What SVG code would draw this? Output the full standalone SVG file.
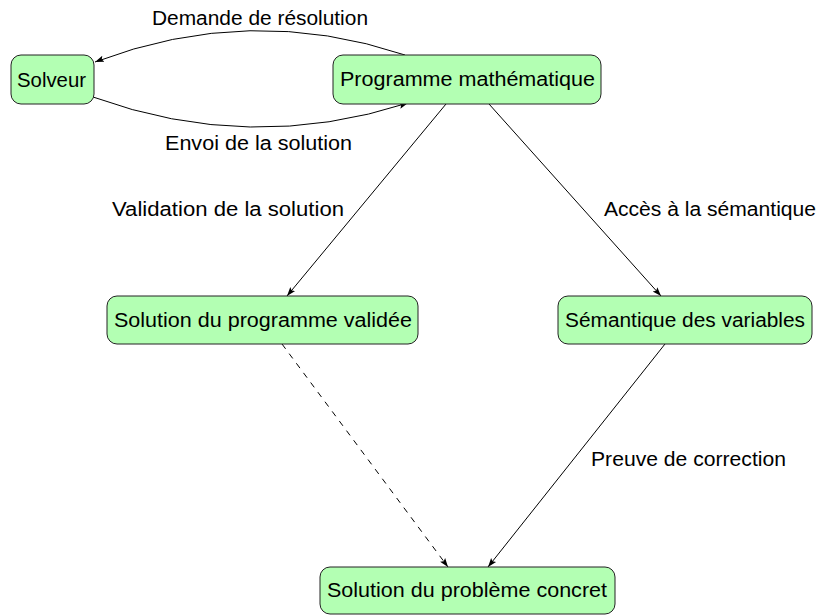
<svg xmlns="http://www.w3.org/2000/svg" width="819" height="615" viewBox="0 0 819 615">
<style>
.node rect{fill:#b3ffb3;stroke:#222;stroke-width:1}
text{font-family:"Liberation Sans","DejaVu Sans",sans-serif;font-size:20px;fill:#000}
.edge{fill:none;stroke:#000;stroke-width:1;marker-end:url(#arr)}
.dash{stroke-dasharray:6,6}
</style>
<defs>
<marker id="arr" viewBox="0 0 10 10" refX="10" refY="5" markerWidth="9" markerHeight="9" markerUnits="userSpaceOnUse" orient="auto">
<path d="M0,1.5 L10,5 L0,8.5 L2,5 Z" fill="#000"/>
</marker>
</defs>
<rect width="819" height="615" fill="#fff"/>
<g id="connectors">
<path class="edge" d="M405,55 Q250,3 95,62"/>
<path class="edge" d="M93,97 Q250,154 408,103"/>
<path class="edge" d="M446,104 L287,296"/>
<path class="edge" d="M489,104 L661,296"/>
<path class="edge dash" d="M282,344 L448,567"/>
<path class="edge" d="M665,344 L488,567"/>
<text x="152" y="25" textLength="216" lengthAdjust="spacingAndGlyphs">Demande de résolution</text>
<text x="165" y="150" textLength="187" lengthAdjust="spacingAndGlyphs">Envoi de la solution</text>
<text x="112" y="216" textLength="232" lengthAdjust="spacingAndGlyphs">Validation de la solution</text>
<text x="604" y="216" textLength="212" lengthAdjust="spacingAndGlyphs">Accès à la sémantique</text>
<text x="591" y="466" textLength="195" lengthAdjust="spacingAndGlyphs">Preuve de correction</text>
</g>
<g id="solveur" class="node">
<rect x="11" y="55" width="83" height="49" rx="10"/>
<text x="17" y="87" textLength="69" lengthAdjust="spacingAndGlyphs">Solveur</text>
</g>
<g id="programme" class="node">
<rect x="333" y="55" width="268" height="49" rx="10"/>
<text x="340" y="86" textLength="255" lengthAdjust="spacingAndGlyphs">Programme mathématique</text>
</g>
<g id="solution-validee" class="node">
<rect x="107" y="296" width="311" height="48" rx="10"/>
<text x="114" y="327" textLength="298" lengthAdjust="spacingAndGlyphs">Solution du programme validée</text>
</g>
<g id="semantique" class="node">
<rect x="558" y="296" width="254" height="48" rx="10"/>
<text x="565" y="327" textLength="240" lengthAdjust="spacingAndGlyphs">Sémantique des variables</text>
</g>
<g id="concret" class="node">
<rect x="320" y="567" width="295" height="47" rx="10"/>
<text x="327" y="597" textLength="280" lengthAdjust="spacingAndGlyphs">Solution du problème concret</text>
</g>
</svg>
